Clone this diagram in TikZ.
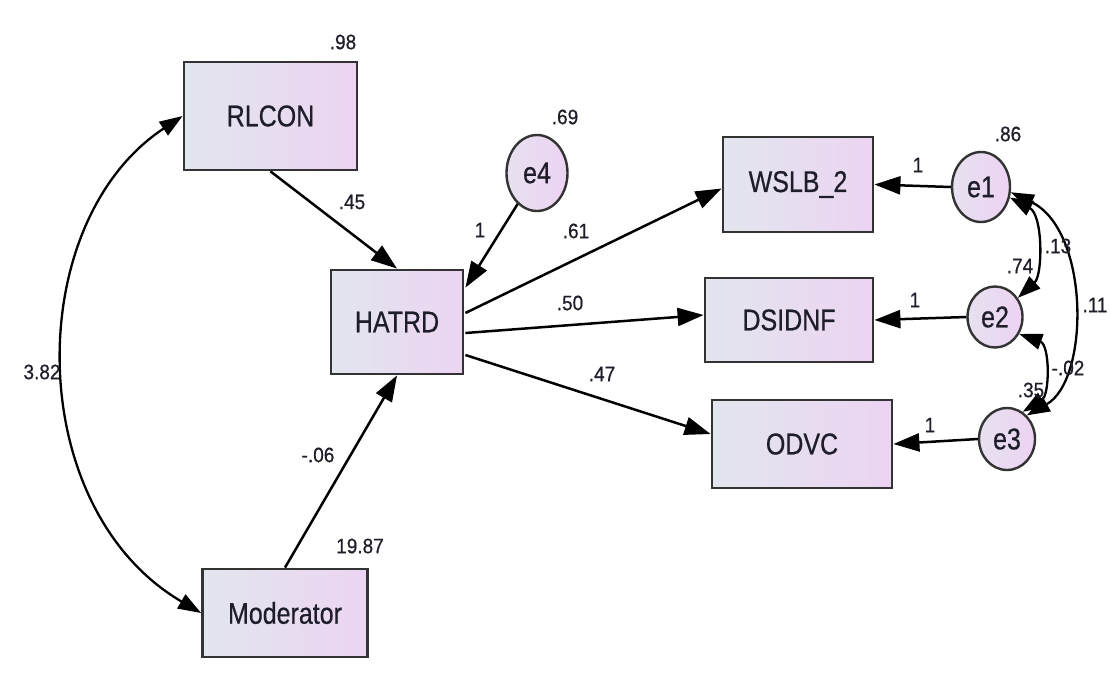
\documentclass[tikz,border=0pt]{standalone}
\usepackage{fontspec}
\setmainfont{Liberation Sans}
\newfontfamily\amosfont[FakeBold=0.6]{Liberation Sans}
\usetikzlibrary{arrows.meta,calc,shapes.geometric}

\definecolor{boxL}{HTML}{E2E6EE}
\definecolor{boxR}{HTML}{ECD4F2}
\definecolor{errL}{HTML}{E6E1F0}
\definecolor{errR}{HTML}{EDD3F2}
\definecolor{edge}{HTML}{333333}
\definecolor{ink}{HTML}{1E1E2A}

% taller-than-wide lettering
\newcommand{\tallA}[1]{\scalebox{1}[1.2]{#1}}
\newcommand{\tallB}[1]{\scalebox{1}[1.1]{#1}}

\tikzset{
  obsvar/.style={draw=edge, line width=2.8pt, left color=boxL, right color=boxR,
    rectangle, inner sep=0pt, text=ink, font=\amosfont\fontsize{25}{30}\selectfont},
  errvar/.style={draw=edge, line width=2.4pt, left color=errL, right color=errR,
    ellipse, inner sep=0pt, text=ink, font=\amosfont\fontsize{25}{30}\selectfont},
  est/.style={inner sep=0pt, text=ink, font=\amosfont\fontsize{19}{22}\selectfont},
  path/.style={draw=black, line width=2.5pt, -{Triangle[length=26pt,width=18pt]}},
  covar/.style={draw=black, line width=2.3pt,
    {Triangle[length=23pt,width=16pt]}-{Triangle[length=23pt,width=16pt]}},
}

\begin{document}
\begin{tikzpicture}[x=1pt,y=-1pt]
\useasboundingbox (0,0) rectangle (1110,683);
\fill[white] (0,0) rectangle (1110,683);

% observed variables
\node[obsvar, minimum width=173pt, minimum height=108pt] (RLCON) at (270.5,116) {\tallA{RLCON}};
\node[obsvar, minimum width=132pt, minimum height=104pt] (HATRD) at (397,322) {\tallA{HATRD}};
\node[obsvar, minimum width=165pt, minimum height=88pt] (Moderator) at (285,613) {\tallA{Moderator}};
\node[obsvar, minimum width=150pt, minimum height=95pt] (WSLB) at (798,184.5) {\tallA{WSLB\_2}};
\node[obsvar, minimum width=168pt, minimum height=84pt] (DSIDNF) at (789,320) {\tallA{DSIDNF}};
\node[obsvar, minimum width=180pt, minimum height=88pt] (ODVC) at (802,444) {\tallA{ODVC}};

% error terms
\node[errvar, minimum width=61pt, minimum height=76pt] (e4) at (537,173) {\tallA{e4}};
\node[errvar, minimum width=58pt, minimum height=70pt] (e1) at (981,187) {\tallA{e1}};
\node[errvar, minimum width=55pt, minimum height=61pt] (e2) at (995,317) {\tallA{e2}};
\node[errvar, minimum width=56pt, minimum height=62pt] (e3) at (1007,439) {\tallA{e3}};

% end points on the sides of HATRD
\coordinate (hE4) at ($(HATRD.north east)+(1,19)$);
\coordinate (hW) at ($(HATRD.east)+(1,-9)$);
\coordinate (hD) at ($(HATRD.east)+(1,11)$);
\coordinate (hO) at ($(HATRD.east)+(1,33)$);
\coordinate (wIn) at ($(WSLB.west)+(0,4)$);
\coordinate (dIn) at ($(DSIDNF.west)+(0,-5)$);
\coordinate (oIn) at ($(ODVC.west)+(0,-10)$);

% regression paths
\draw[path] (RLCON.south) -- (HATRD.north);
\draw[path] (e4) -- (hE4);
\draw[path] (Moderator.north) -- (HATRD.south);
\draw[path] (hW) -- (wIn);
\draw[path] (hD) -- (dIn);
\draw[path] (hO) -- (oIn);
\draw[path] (e1.west) -- (WSLB.east);
\draw[path] (e2.west) -- (DSIDNF.east);
\draw[path] (e3.west) -- (ODVC.east);

% covariances
\draw[covar] (RLCON.west) .. controls (22,222) and (22,508) .. (Moderator.west);
\draw[covar] (e1.-20) .. controls (1043,215) and (1043,275) .. (e2.40);
\draw[covar] (e2.-35) .. controls (1050,345) and (1050,395) .. (e3.60);
\draw[covar] (e1.-10) .. controls (1090,230) and (1090,380) .. (e3.50);

% estimates
\node[est] (vRL) at (343,42) {\tallB{.98}};
\node[est] (bRL) at (352,202) {\tallB{.45}};
\node[est] (w4) at (480,230) {\tallB{1}};
\node[est] (v4) at (565,117) {\tallB{.69}};
\node[est] (bW) at (576,231) {\tallB{.61}};
\node[est] (bD) at (570,303) {\tallB{.50}};
\node[est] (bO) at (602,374) {\tallB{.47}};
\node[est] (w1) at (918,165) {\tallB{1}};
\node[est] (w2) at (915,300) {\tallB{1}};
\node[est] (w3) at (930,425) {\tallB{1}};
\node[est] (v1) at (1008,134) {\tallB{.86}};
\node[est] (v2) at (1020,266) {\tallB{.74}};
\node[est] (c12) at (1058,246) {\tallB{.13}};
\node[est] (c13) at (1095,305) {\tallB{.11}};
\node[est] (c23) at (1068,368) {\tallB{-.02}};
\node[est] (v3) at (1031,390) {\tallB{.35}};
\node[est] (cRM) at (42,372) {\tallB{3.82}};
\node[est] (bM) at (318,455) {\tallB{-.06}};
\node[est] (vM) at (360,546) {\tallB{19.87}};
\end{tikzpicture}
\end{document}
